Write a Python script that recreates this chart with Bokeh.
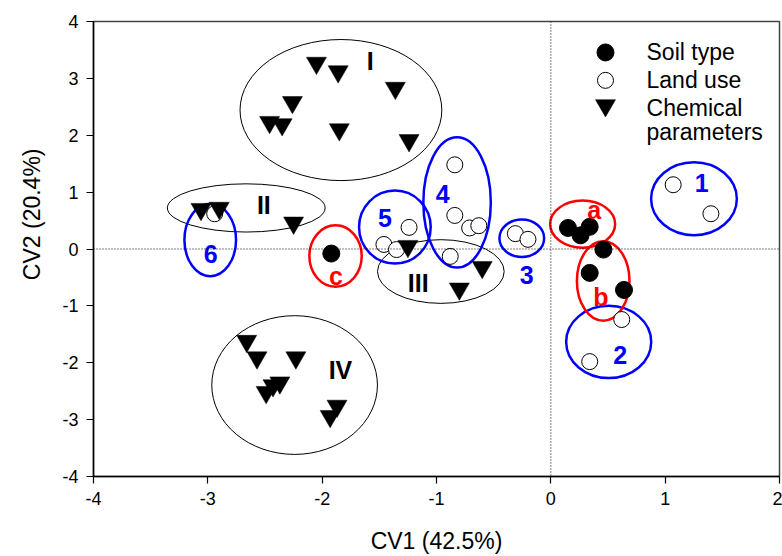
from bokeh.plotting import figure
from bokeh.models import Range1d, FixedTicker, Span, Title
from bokeh.core.properties import value
from bokeh.embed import file_html
from bokeh.resources import INLINE

FONT = "Liberation Sans"

# ---- data ----
x_ticks = [-4, -3, -2, -1, 0, 1, 2]
y_ticks = [-4, -3, -2, -1, 0, 1, 2, 3, 4]

soil_x = [0.15, 0.26, 0.34, 0.46, 0.34, 0.64, -1.92]
soil_y = [0.37, 0.24, 0.39, -0.01, -0.42, -0.72, -0.08]

land_x = [1.07, 1.40, 0.62, 0.34, -0.31, -0.20, -0.84, -0.84, -0.71, -0.63, -0.88,
          -1.24, -1.46, -1.35, -2.94]
land_y = [1.13, 0.62, -1.24, -1.98, 0.27, 0.17, 1.48, 0.59, 0.37, 0.41, -0.13,
          0.38, 0.08, -0.01, 0.62]

chem_x = [-2.05, -1.86, -1.36, -2.26, -2.46, -2.35, -1.85, -1.24,
          -3.06, -2.90, -2.25,
          -1.25, -0.60, -0.80,
          -2.66, -2.57, -2.23, -2.37, -2.43, -2.49, -1.87, -1.93]
chem_y = [3.27, 3.12, 2.83, 2.58, 2.23, 2.19, 2.10, 1.91,
          0.70, 0.72, 0.46,
          0.05, -0.32, -0.70,
          -1.62, -1.91, -1.91, -2.35, -2.40, -2.52, -2.76, -2.94]

# groups: ellipse centre, width, height (data units) and label position
grp_names = ["I", "II", "III", "IV"]
grp_cx = [-1.836, -2.664, -0.962, -2.241]
grp_cy = [2.443, 0.722, -0.396, -2.392]
grp_w = [1.765, 1.38, 1.108, 1.449]
grp_h = [2.48, 0.848, 1.12, 2.44]
grp_lx = [-1.58, -2.51, -1.16, -1.84]
grp_ly = [3.30, 0.77, -0.595, -2.12]

land_names = ["1", "2", "3", "4", "5", "6"]
land_cx = [1.252, 0.506, -0.254, -0.82, -1.364, -2.979]
land_cy = [0.883, -1.634, 0.19, 0.818, 0.385, 0.158]
land_w = [0.75, 0.744, 0.391, 0.59, 0.627, 0.452]
land_h = [1.284, 1.271, 0.66, 2.29, 1.284, 1.273]
land_lx = [1.32, 0.606, -0.21, -0.945, -1.45, -2.975]
land_ly = [1.156, -1.86, -0.46, 0.97, 0.55, -0.08]

soil_names = ["a", "b", "c"]
soil_cx = [0.278, 0.458, -1.883]
soil_cy = [0.438, -0.562, -0.124]
soil_w = [0.569, 0.46, 0.458]
soil_h = [0.83, 1.396, 1.08]
soil_lx = [0.38, 0.437, -1.88]
soil_ly = [0.68, -0.85, -0.47]

legend_labels = ["Soil type", "Land use", "Chemical", "parameters"]

BLUE = "#0000FF"
RED = "#FF0000"

# legend layout (anchor in data units)
LEG_X = 0.478
LEG_TX = 0.837
LEG_Y0 = 3.456
LEG_DY = 0.491
LEG_DY_LAST = 0.421

p = figure(width=782, height=556, output_backend="svg", toolbar_location=None,
           x_range=Range1d(-4, 2), y_range=Range1d(-4, 4),
           min_border_left=93, min_border_right=3, min_border_top=21, min_border_bottom=79)
p.xgrid.visible = False
p.ygrid.visible = False
p.outline_line_color = "#444444"
p.outline_line_width = 1.5
p.background_fill_color = "white"
p.border_fill_color = "white"

for ax, ticks in ((p.xaxis[0], x_ticks), (p.yaxis[0], y_ticks)):
    ax.ticker = FixedTicker(ticks=ticks)
    ax.major_label_overrides = {t: str(t) for t in ticks}
    ax.major_tick_out = 7
    ax.major_tick_in = 0
    ax.minor_tick_out = 0
    ax.minor_tick_in = 0
    ax.axis_line_color = "black"
    ax.axis_line_width = 1.5
    ax.major_tick_line_color = "black"
    ax.major_tick_line_width = 1.2
    ax.major_label_text_font = FONT
    ax.major_label_text_font_size = "18px"
    ax.major_label_text_color = "black"
    ax.major_label_standoff = 8

p.xaxis.axis_label = "CV1 (42.5%)"
p.xaxis.axis_label_text_font = FONT
p.xaxis.axis_label_text_font_size = "23px"
p.xaxis.axis_label_text_font_style = "normal"
p.xaxis.axis_label_text_color = "black"
p.xaxis.axis_label_standoff = 20

p.add_layout(Title(text="CV2 (20.4%)", align="right", offset=127, standoff=29,
                   text_font=FONT, text_font_size="23px", text_font_style="normal",
                   text_color="black"), "left")

# reference lines
p.add_layout(Span(location=0, dimension="height", line_color="black", line_width=1, line_dash="1 2"))
p.add_layout(Span(location=0, dimension="width", line_color="black", line_width=1, line_dash="1 2"))

# ellipses
p.ellipse(x=grp_cx, y=grp_cy, width=grp_w, height=grp_h, fill_color=None,
          line_color="black", line_width=1)
p.ellipse(x=land_cx, y=land_cy, width=land_w, height=land_h, fill_color=None,
          line_color=BLUE, line_width=2.5)
p.ellipse(x=soil_cx, y=soil_cy, width=soil_w, height=soil_h, fill_color=None,
          line_color=RED, line_width=2.5)

# markers
land_style = dict(marker="circle", size=16, fill_color="white", line_color="black", line_width=1)
chem_style = dict(marker="inverted_triangle", size=20, fill_color="black", line_color="black",
                  line_width=0.5)
soil_style = dict(marker="circle", size=17, fill_color="black", line_color="black")

p.scatter(x=land_x, y=land_y, **land_style)
p.scatter(x=chem_x, y=chem_y, **chem_style)
p.scatter(x=soil_x, y=soil_y, **soil_style)

# group labels
lab_kw = dict(text_font=value(FONT), text_font_style="bold", text_font_size="25px",
              text_align="center", text_baseline="middle")
p.text(x=grp_lx, y=grp_ly, text=grp_names, text_color="black", **lab_kw)
p.text(x=land_lx, y=land_ly, text=land_names, text_color=BLUE, **lab_kw)
p.text(x=soil_lx, y=soil_ly, text=soil_names, text_color=RED, **lab_kw)

# legend (drawn by hand so that marker size and row pitch match the original)
leg_rows = [LEG_Y0 - i * LEG_DY for i in range(3)]
leg_rows.append(leg_rows[-1] - LEG_DY_LAST)
p.scatter(x=[LEG_X], y=[leg_rows[0]], **soil_style)
p.scatter(x=[LEG_X], y=[leg_rows[1]], **land_style)
p.scatter(x=[LEG_X], y=[leg_rows[2] + 0.05], **chem_style)
p.text(x=[LEG_TX] * 4, y=leg_rows, text=legend_labels, text_font=value(FONT),
       text_font_size="23px", text_align="left", text_baseline="middle", text_color="black")

open("out.html", "w").write(file_html(p, INLINE))
